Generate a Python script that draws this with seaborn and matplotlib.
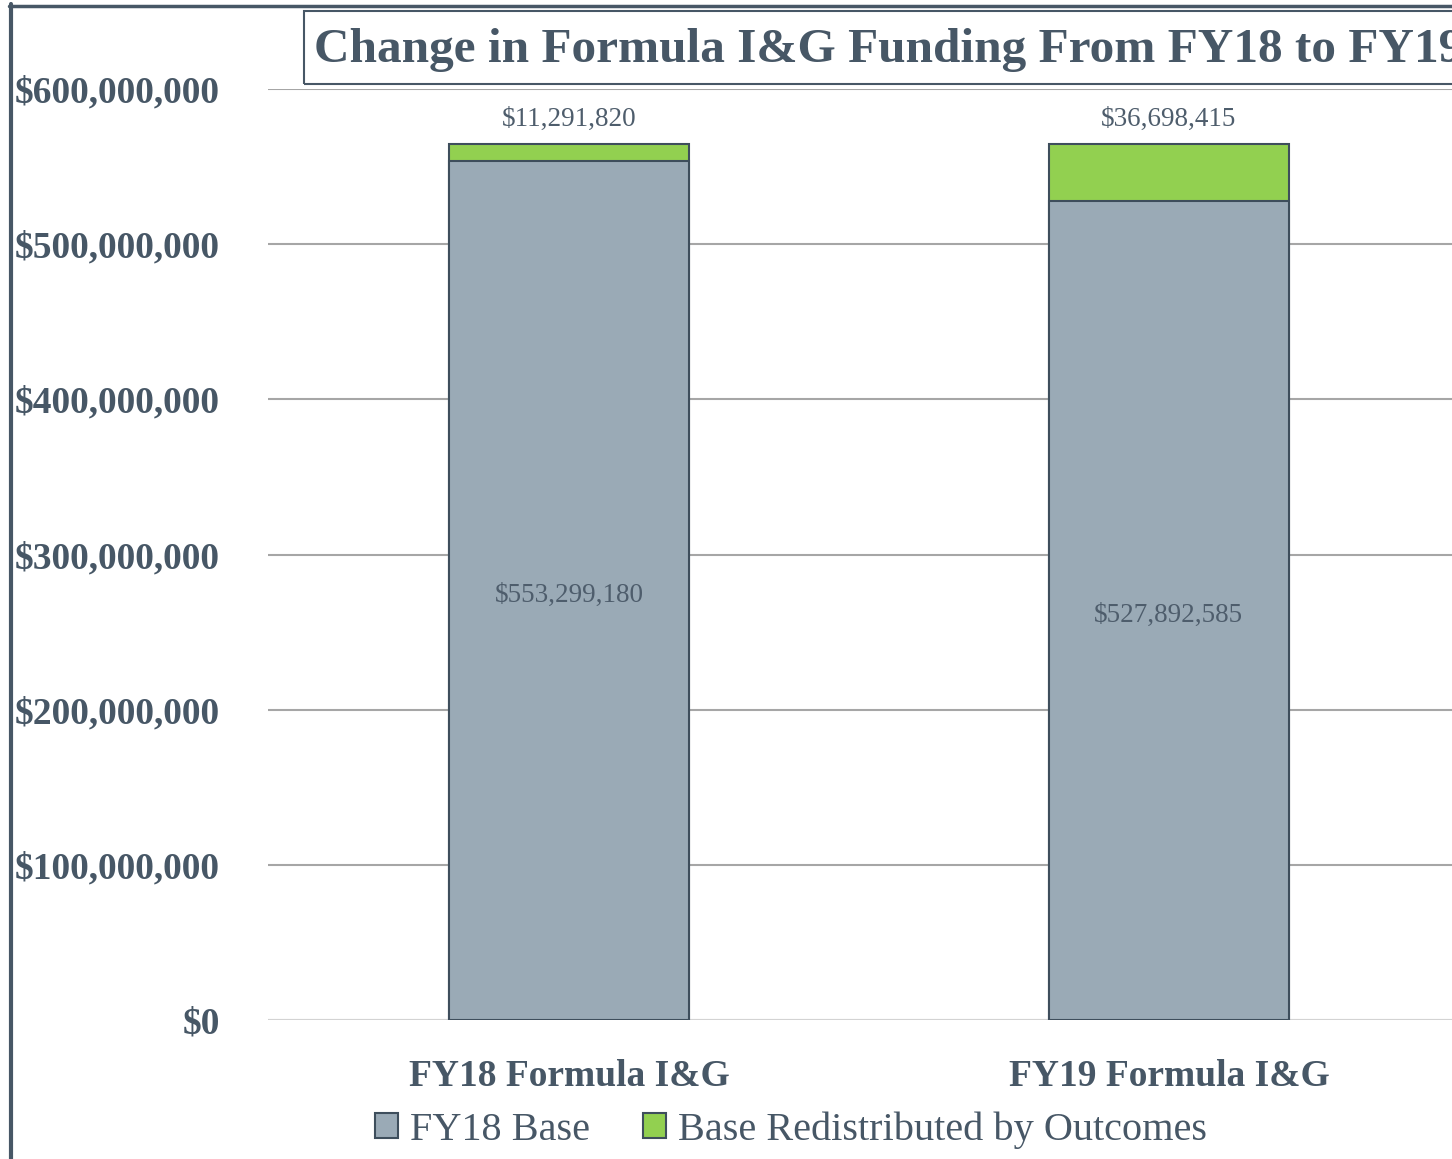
import numpy as np
import pandas as pd
import seaborn as sns
import matplotlib.pyplot as plt
from matplotlib.patches import Rectangle, Patch
from matplotlib.lines import Line2D
from matplotlib.ticker import FuncFormatter

# chart values
categories = ["FY18 Formula I&G", "FY19 Formula I&G"]
base = [553299180, 527892585]
redistributed = [11291820, 36698415]
series_names = ["FY18 Base", "Base Redistributed by Outcomes"]
title = "Change in Formula I&G Funding From FY18 to FY19"

df = pd.DataFrame({"category": categories, "base": base, "redist": redistributed})
df["total"] = df["base"] + df["redist"]

text_col = "#475766"
gray = "#9AAAB6"
green = "#92D050"
edge = "#3E4E5C"

sns.set_style("white")
plt.rcParams["font.family"] = ["Liberation Serif", "DejaVu Serif"]

fig = plt.figure(figsize=(14.52, 11.59), dpi=100)
ax = fig.add_axes([268 / 1452, 1 - 1020 / 1159, 1 - 268 / 1452, (1020 - 89) / 1159])

# stacked bars: total (green) underneath, base (gray) on top
sns.barplot(data=df, x="category", y="total", color=green, width=0.4,
            edgecolor=edge, linewidth=1.5, saturation=1, ax=ax, zorder=3)
sns.barplot(data=df, x="category", y="base", color=gray, width=0.4,
            edgecolor=edge, linewidth=1.5, saturation=1, ax=ax, zorder=3)

ax.set_ylim(0, 600000000)
ax.set_xlim(-0.502, 1.472)
ax.set_yticks(np.arange(0, 600000001, 100000000))
ax.yaxis.set_major_formatter(FuncFormatter(lambda v, p: f"${v:,.0f}"))
ax.grid(axis="y", color="#A6A6A6", linewidth=1.5, zorder=0)
ax.set_xlabel("")
ax.set_ylabel("")
for s in ax.spines.values():
    s.set_visible(False)
ax.axhline(0, color="#D9D9D9", linewidth=2, zorder=2)
ax.tick_params(axis="y", length=0, pad=34.5, labelsize=27, labelcolor=text_col)
ax.tick_params(axis="x", length=0, pad=28, labelsize=27, labelcolor=text_col)
for lbl in ax.get_yticklabels() + ax.get_xticklabels():
    lbl.set_fontweight("bold")

# data labels
for i, row in df.iterrows():
    ax.text(i, row["base"] / 2 - 3000000, f"${row['base']:,.0f}", ha="center", va="center",
            fontsize=19.5, color="#4E5D6C", zorder=4)
    ax.text(i, row["total"] + 15500000, f"${row['redist']:,.0f}", ha="center",
            va="center", fontsize=19.5, color="#4E5D6C", zorder=4)

# outer frame (left and top edges only visible)
fig.add_artist(Line2D([11 / 1452, 11 / 1452], [0, 1 - 4 / 1159],
                      transform=fig.transFigure, color=text_col, linewidth=3))
fig.add_artist(Line2D([9 / 1452, 1], [1 - 6 / 1159, 1 - 6 / 1159],
                      transform=fig.transFigure, color=text_col, linewidth=2.5))

# title box (runs off the right edge, as in the source)
fig.add_artist(Rectangle((304 / 1452, 1 - 84 / 1159), 1.0, 73 / 1159,
                         transform=fig.transFigure, fill=False,
                         edgecolor=text_col, linewidth=1.5))
fig.text(314 / 1452, 1 - 50 / 1159, title, ha="left", va="center",
         fontsize=35.5, fontweight="bold", color=text_col)

handles = [Patch(facecolor=gray, edgecolor=edge, linewidth=1.5),
           Patch(facecolor=green, edgecolor=edge, linewidth=1.5)]
fig.legend(handles, series_names, loc="center", bbox_to_anchor=(791 / 1452, 1 - 1130 / 1159),
           ncol=2, frameon=False, fontsize=29, labelcolor=text_col,
           handlelength=0.57, handleheight=0.57, handletextpad=0.3, columnspacing=1.3)

fig.savefig("out.png", dpi=100)
